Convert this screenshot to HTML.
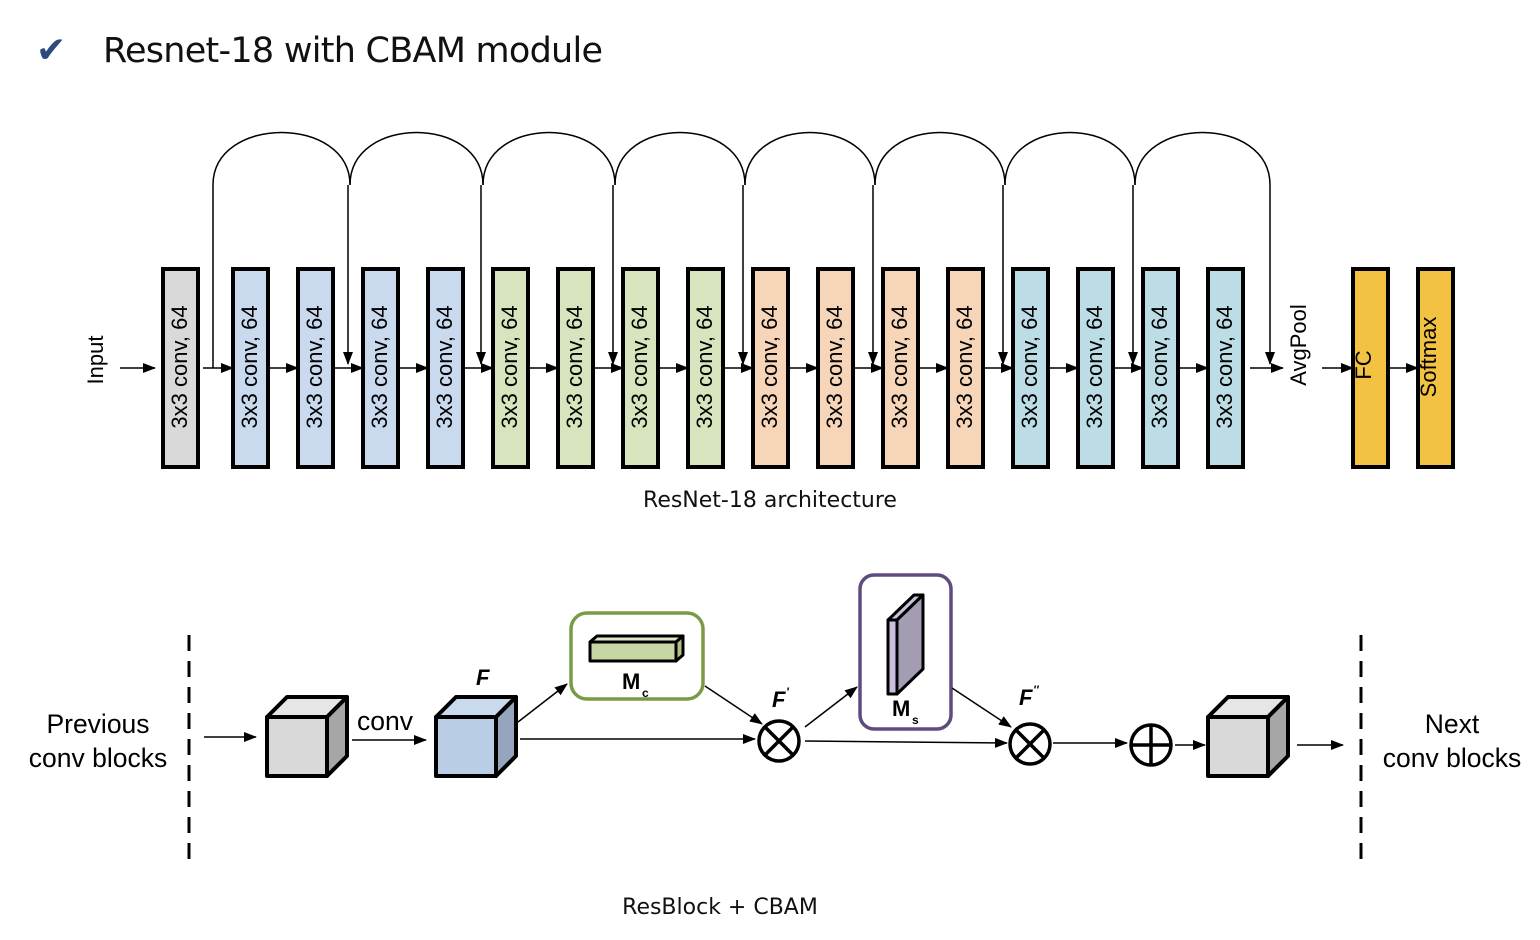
<!DOCTYPE html>
<html><head><meta charset="utf-8"><style>
body{margin:0;background:#fff;width:1540px;height:940px;overflow:hidden}
svg{display:block;font-family:"Liberation Sans",sans-serif}
</style></head><body>
<svg width="1540" height="940" viewBox="0 0 1540 940" xmlns="http://www.w3.org/2000/svg">
<defs>
<marker id="b" markerWidth="13" markerHeight="10" refX="12" refY="5" orient="auto" markerUnits="userSpaceOnUse"><path d="M0,0 L13,5 L0,10z" fill="#000"/></marker>
</defs>
<text x="36" y="62" font-size="36" fill="#2c4a7c" font-family="DejaVu Sans,sans-serif">✔</text>
<text x="103" y="62" font-size="35" fill="#111" font-family="DejaVu Sans,sans-serif" textLength="500">Resnet-18 with CBAM module</text>

<g stroke="#000" stroke-width="1.5" fill="none">
<path d="M213,368 L213,185 C213,115 350,115 350,185"/>
<path d="M350,185 C350,115 483,115 483,185"/>
<path d="M483,185 C483,115 615,115 615,185"/>
<path d="M615,185 C615,115 745,115 745,185"/>
<path d="M745,185 C745,115 875,115 875,185"/>
<path d="M875,185 C875,115 1005,115 1005,185"/>
<path d="M1005,185 C1005,115 1135,115 1135,185"/>
<path d="M1135,185 C1135,115 1270,115 1270,185"/>
</g>
<g stroke="#000" stroke-width="1.5" marker-end="url(#b)">
<line x1="348" y1="185" x2="348" y2="364"/>
<line x1="481" y1="185" x2="481" y2="364"/>
<line x1="613" y1="185" x2="613" y2="364"/>
<line x1="743" y1="185" x2="743" y2="364"/>
<line x1="873" y1="185" x2="873" y2="364"/>
<line x1="1003" y1="185" x2="1003" y2="364"/>
<line x1="1133" y1="185" x2="1133" y2="364"/>
<line x1="1270" y1="185" x2="1270" y2="364"/>
</g>
<g stroke="#000" stroke-width="1.5" marker-end="url(#b)">
<line x1="120" y1="368" x2="155" y2="368"/>
<line x1="203" y1="368" x2="233" y2="368"/>
<line x1="268" y1="368" x2="298" y2="368"/>
<line x1="333" y1="368" x2="363" y2="368"/>
<line x1="398" y1="368" x2="428" y2="368"/>
<line x1="463" y1="368" x2="493" y2="368"/>
<line x1="528" y1="368" x2="558" y2="368"/>
<line x1="593" y1="368" x2="623" y2="368"/>
<line x1="658" y1="368" x2="688" y2="368"/>
<line x1="723" y1="368" x2="753" y2="368"/>
<line x1="788" y1="368" x2="818" y2="368"/>
<line x1="853" y1="368" x2="883" y2="368"/>
<line x1="918" y1="368" x2="948" y2="368"/>
<line x1="983" y1="368" x2="1013" y2="368"/>
<line x1="1048" y1="368" x2="1078" y2="368"/>
<line x1="1113" y1="368" x2="1143" y2="368"/>
<line x1="1178" y1="368" x2="1208" y2="368"/>
<line x1="1250" y1="368" x2="1283" y2="368"/>
<line x1="1322" y1="368" x2="1353" y2="368"/>
<line x1="1388" y1="368" x2="1418" y2="368"/>
</g>
<g stroke="#000" stroke-width="4">
<rect x="163" y="269" width="35" height="198" fill="#d9d9d9"/>
<rect x="233" y="269" width="35" height="198" fill="#c9d9ee"/>
<rect x="298" y="269" width="35" height="198" fill="#c9d9ee"/>
<rect x="363" y="269" width="35" height="198" fill="#c9d9ee"/>
<rect x="428" y="269" width="35" height="198" fill="#c9d9ee"/>
<rect x="493" y="269" width="35" height="198" fill="#d8e4bd"/>
<rect x="558" y="269" width="35" height="198" fill="#d8e4bd"/>
<rect x="623" y="269" width="35" height="198" fill="#d8e4bd"/>
<rect x="688" y="269" width="35" height="198" fill="#d8e4bd"/>
<rect x="753" y="269" width="35" height="198" fill="#f6d5b8"/>
<rect x="818" y="269" width="35" height="198" fill="#f6d5b8"/>
<rect x="883" y="269" width="35" height="198" fill="#f6d5b8"/>
<rect x="948" y="269" width="35" height="198" fill="#f6d5b8"/>
<rect x="1013" y="269" width="35" height="198" fill="#bcdde5"/>
<rect x="1078" y="269" width="35" height="198" fill="#bcdde5"/>
<rect x="1143" y="269" width="35" height="198" fill="#bcdde5"/>
<rect x="1208" y="269" width="35" height="198" fill="#bcdde5"/>
<rect x="1353" y="269" width="35" height="198" fill="#f3c242"/>
<rect x="1418" y="269" width="35" height="198" fill="#f3c242"/>
</g>
<g font-size="22" fill="#000" text-anchor="middle" font-family="Liberation Sans,sans-serif">
<text transform="translate(187,367) rotate(-90)">3x3 conv, 64</text>
<text transform="translate(257,367) rotate(-90)">3x3 conv, 64</text>
<text transform="translate(322,367) rotate(-90)">3x3 conv, 64</text>
<text transform="translate(387,367) rotate(-90)">3x3 conv, 64</text>
<text transform="translate(452,367) rotate(-90)">3x3 conv, 64</text>
<text transform="translate(517,367) rotate(-90)">3x3 conv, 64</text>
<text transform="translate(582,367) rotate(-90)">3x3 conv, 64</text>
<text transform="translate(647,367) rotate(-90)">3x3 conv, 64</text>
<text transform="translate(712,367) rotate(-90)">3x3 conv, 64</text>
<text transform="translate(777,367) rotate(-90)">3x3 conv, 64</text>
<text transform="translate(842,367) rotate(-90)">3x3 conv, 64</text>
<text transform="translate(907,367) rotate(-90)">3x3 conv, 64</text>
<text transform="translate(972,367) rotate(-90)">3x3 conv, 64</text>
<text transform="translate(1037,367) rotate(-90)">3x3 conv, 64</text>
<text transform="translate(1102,367) rotate(-90)">3x3 conv, 64</text>
<text transform="translate(1167,367) rotate(-90)">3x3 conv, 64</text>
<text transform="translate(1232,367) rotate(-90)">3x3 conv, 64</text>
<text transform="translate(103,360) rotate(-90)">Input</text>
<text transform="translate(1306,345) rotate(-90)">AvgPool</text>
<text transform="translate(1371,365) rotate(-90)">FC</text>
<text transform="translate(1436,357) rotate(-90)">Softmax</text>
</g>
<text x="770" y="507" font-size="22" text-anchor="middle" font-family="DejaVu Sans,sans-serif" fill="#111">ResNet-18 architecture</text>

<g stroke="#000" stroke-width="3" stroke-dasharray="16,10">
<line x1="189" y1="635" x2="189" y2="868"/>
<line x1="1361" y1="635" x2="1361" y2="868"/>
</g>
<g font-size="26.5" text-anchor="middle" fill="#000">
<text x="98" y="733">Previous</text>
<text x="98" y="767">conv blocks</text>
<text x="1452" y="733">Next</text>
<text x="1452" y="767">conv blocks</text>
<text x="385" y="730">conv</text>
</g>
<g stroke="#000" stroke-width="4" stroke-linejoin="round">
<rect x="267" y="717" width="60" height="59" fill="#d9d9d9"/>
<polygon points="267,717 287,697 347,697 327,717" fill="#e6e6e6"/>
<polygon points="327,717 347,697 347,756 327,776" fill="#a6a6a6"/>
<rect x="436" y="717" width="60" height="59" fill="#b9cde5"/>
<polygon points="436,717 456,697 516,697 496,717" fill="#c9d9ee"/>
<polygon points="496,717 516,697 516,756 496,776" fill="#95a5bd"/>
<rect x="1208" y="717" width="60" height="59" fill="#d9d9d9"/>
<polygon points="1208,717 1228,697 1288,697 1268,717" fill="#e6e6e6"/>
<polygon points="1268,717 1288,697 1288,756 1268,776" fill="#a6a6a6"/>
</g>
<rect x="571" y="613" width="132" height="86" rx="16" fill="#fff" stroke="#7a9a46" stroke-width="3.5"/>
<rect x="860" y="575" width="91" height="154" rx="14" fill="#fff" stroke="#5e4c7e" stroke-width="3.5"/>
<g stroke="#000" stroke-width="3" stroke-linejoin="round">
<rect x="590" y="642" width="86" height="19" fill="#c7d6a3"/>
<polygon points="590,642 597,636 683,636 676,642" fill="#dfe8c7"/>
<polygon points="676,642 683,636 683,655 676,661" fill="#b0c088"/>
<rect x="888" y="620" width="9" height="74" fill="#c8c0dc"/>
<polygon points="888,620 914,595 923,595 897,620" fill="#c8c0dc"/>
<polygon points="897,620 923,595 923,669 897,694" fill="#a49cb3"/>
</g>
<g font-family="Liberation Sans,sans-serif" font-weight="bold" fill="#000">
<text x="622" y="689" font-size="22">M</text><text x="642" y="697" font-size="12">c</text>
<text x="892" y="716" font-size="22">M</text><text x="912" y="724" font-size="12">s</text>
<text x="476" y="685" font-size="22" font-style="italic">F</text>
<text x="772" y="707" font-size="22" font-style="italic">F</text><text x="786" y="696" font-size="12" font-style="italic">'</text>
<text x="1019" y="705" font-size="22" font-style="italic">F</text><text x="1033" y="694" font-size="12" font-style="italic">''</text>
</g>
<g stroke="#000" stroke-width="1.5" marker-end="url(#b)">
<line x1="204" y1="737" x2="256" y2="737"/>
<line x1="352" y1="740" x2="426" y2="740"/>
<line x1="518" y1="722" x2="567" y2="684"/>
<line x1="520" y1="739" x2="755" y2="739"/>
<line x1="705" y1="686" x2="762" y2="724"/>
<line x1="805" y1="727" x2="857" y2="687"/>
<line x1="805" y1="741" x2="1007" y2="743"/>
<line x1="952" y1="688" x2="1011" y2="727"/>
<line x1="1053" y1="743" x2="1127" y2="743"/>
<line x1="1175" y1="745" x2="1205" y2="745"/>
<line x1="1297" y1="745" x2="1343" y2="745"/>
</g>
<g stroke="#000" stroke-width="3.5" fill="#fff">
<circle cx="779" cy="741" r="20"/>
<line x1="765" y1="727" x2="793" y2="755"/><line x1="793" y1="727" x2="765" y2="755"/>
<circle cx="1030" cy="744" r="20"/>
<line x1="1016" y1="730" x2="1044" y2="758"/><line x1="1044" y1="730" x2="1016" y2="758"/>
<circle cx="1151" cy="745" r="20"/>
<line x1="1131" y1="745" x2="1171" y2="745"/><line x1="1151" y1="725" x2="1151" y2="765"/>
</g>
<text x="720" y="914" font-size="22" text-anchor="middle" font-family="DejaVu Sans,sans-serif" fill="#111">ResBlock + CBAM</text>
</svg>
</body></html>
